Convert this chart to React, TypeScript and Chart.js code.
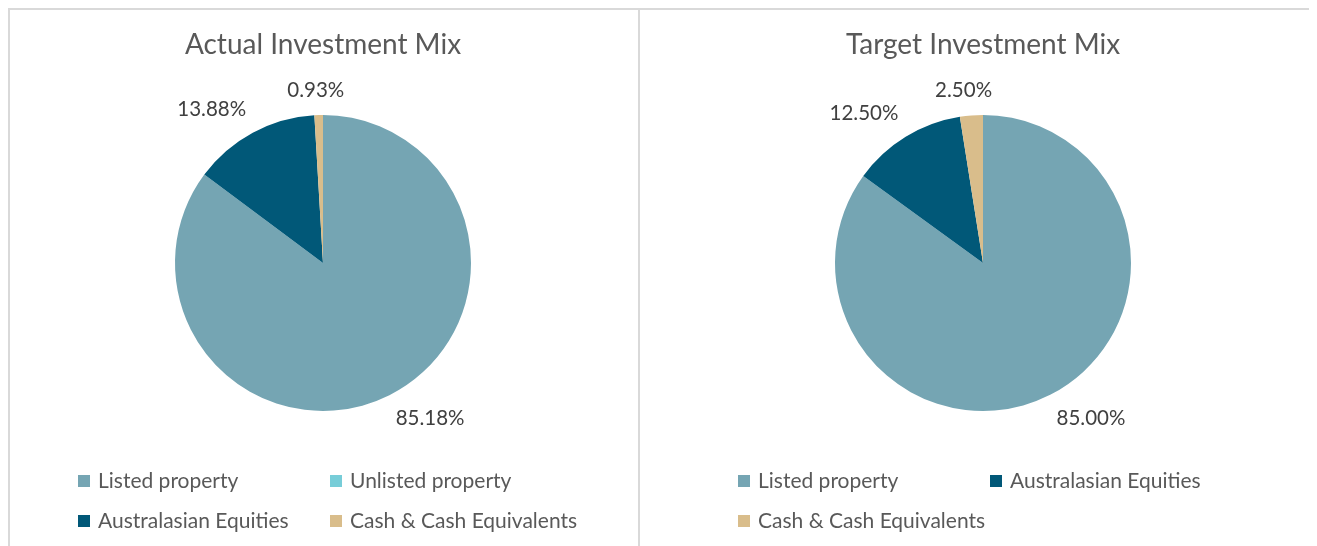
import React, { useEffect, useRef } from "react";
import { Chart, registerables } from "chart.js";

Chart.register(...registerables);

const actualCategories = ["Listed property", "Unlisted property", "Australasian Equities", "Cash & Cash Equivalents"];
const actualValues = [85.18, 0, 13.88, 0.93];
const targetCategories = ["Listed property", "Australasian Equities", "Cash & Cash Equivalents"];
const targetValues = [85.0, 12.5, 2.5];

const categoryColors: Record<string, string> = {
  "Listed property": "#75A5B3",
  "Unlisted property": "#77CDD8",
  "Australasian Equities": "#015878",
  "Cash & Cash Equivalents": "#D9BD8B",
};

const FONT = "Lato, 'Open Sans', sans-serif";

function makePlugin(title: string) {
  return {
    id: "panelText",
    afterDraw(chart: any) {
      const ctx = chart.ctx as CanvasRenderingContext2D;
      const meta = chart.getDatasetMeta(0);
      const arcs = meta.data;
      if (!arcs.length) return;
      const cx = arcs[0].x;
      const cy = arcs[0].y;
      ctx.save();
      // title
      ctx.fillStyle = "#595959";
      ctx.font = `28px ${FONT}`;
      ctx.textAlign = "center";
      ctx.textBaseline = "middle";
      ctx.fillText(title, cx, 35);
      // data labels
      const values = chart.data.datasets[0].data as number[];
      ctx.font = `20.5px ${FONT}`;
      ctx.fillStyle = "#404040";
      arcs.forEach((arc: any, i: number) => {
        const v = values[i];
        if (!v) return;
        const mid = (arc.startAngle + arc.endAngle) / 2;
        const r = arc.outerRadius + 14;
        const px = cx + Math.cos(mid) * r;
        const py = cy + Math.sin(mid) * r;
        const txt = v.toFixed(2) + "%";
        const w = ctx.measureText(txt).width;
        const h = 22;
        const clamp = (a: number) => Math.max(-1, Math.min(1, a));
        const tx = px + (w / 2) * clamp(Math.cos(mid) * 3);
        const ty = py + (h / 2) * clamp(Math.sin(mid) * 3);
        ctx.fillText(txt, tx, ty);
      });
      // legend
      const labels = chart.data.labels as string[];
      const colors = chart.data.datasets[0].backgroundColor as string[];
      ctx.font = `21px ${FONT}`;
      ctx.textAlign = "left";
      const startX = cx - 245;
      const colW = 252;
      labels.forEach((lab, i) => {
        const col = i % 2;
        const row = Math.floor(i / 2);
        const x = startX + col * colW;
        const y = 470 + row * 40;
        ctx.fillStyle = colors[i];
        ctx.fillRect(x, y - 5, 12, 12);
        ctx.fillStyle = "#595959";
        ctx.fillText(lab, x + 20, y + 1);
      });
      ctx.restore();
    },
  };
}

function PieChart(props: {
  title: string;
  labels: string[];
  values: number[];
  width: number;
  height: number;
  padding: { left: number; right: number; top: number; bottom: number };
}) {
  const ref = useRef<HTMLCanvasElement | null>(null);
  useEffect(() => {
    if (!ref.current) return;
    const chart = new Chart(ref.current, {
      type: "pie",
      data: {
        labels: props.labels,
        datasets: [
          {
            data: props.values,
            backgroundColor: props.labels.map((l) => categoryColors[l]),
            borderWidth: 0,
          },
        ],
      },
      options: {
        responsive: false,
        animation: false,
        devicePixelRatio: 1,
        layout: { padding: props.padding },
        plugins: {
          legend: { display: false },
          title: { display: false },
          tooltip: { enabled: false },
        },
      },
      plugins: [makePlugin(props.title)],
    });
    return () => chart.destroy();
  }, []);
  return (
    <canvas
      ref={ref}
      width={props.width}
      height={props.height}
      style={{ width: props.width, height: props.height, display: "block" }}
    />
  );
}

export default function App() {
  const line = "#d9d9d9";
  return (
    <div style={{ position: "relative", width: 1309, height: 538, background: "#fff", overflow: "hidden" }}>
      <div style={{ position: "absolute", left: 0, top: 0, width: 1309, height: 2, background: line }} />
      <div style={{ position: "absolute", left: 0, top: 0, width: 2, height: 538, background: line }} />
      <div style={{ position: "absolute", left: 630, top: 0, width: 2, height: 538, background: line }} />
      <div style={{ position: "absolute", left: 2, top: 2 }}>
        <PieChart
          title="Actual Investment Mix"
          labels={actualCategories}
          values={actualValues}
          width={628}
          height={536}
          padding={{ left: 165, right: 167, top: 105, bottom: 135 }}
        />
      </div>
      <div style={{ position: "absolute", left: 632, top: 2 }}>
        <PieChart
          title="Target Investment Mix"
          labels={targetCategories}
          values={targetValues}
          width={677}
          height={536}
          padding={{ left: 195, right: 186, top: 105, bottom: 135 }}
        />
      </div>
    </div>
  );
}
